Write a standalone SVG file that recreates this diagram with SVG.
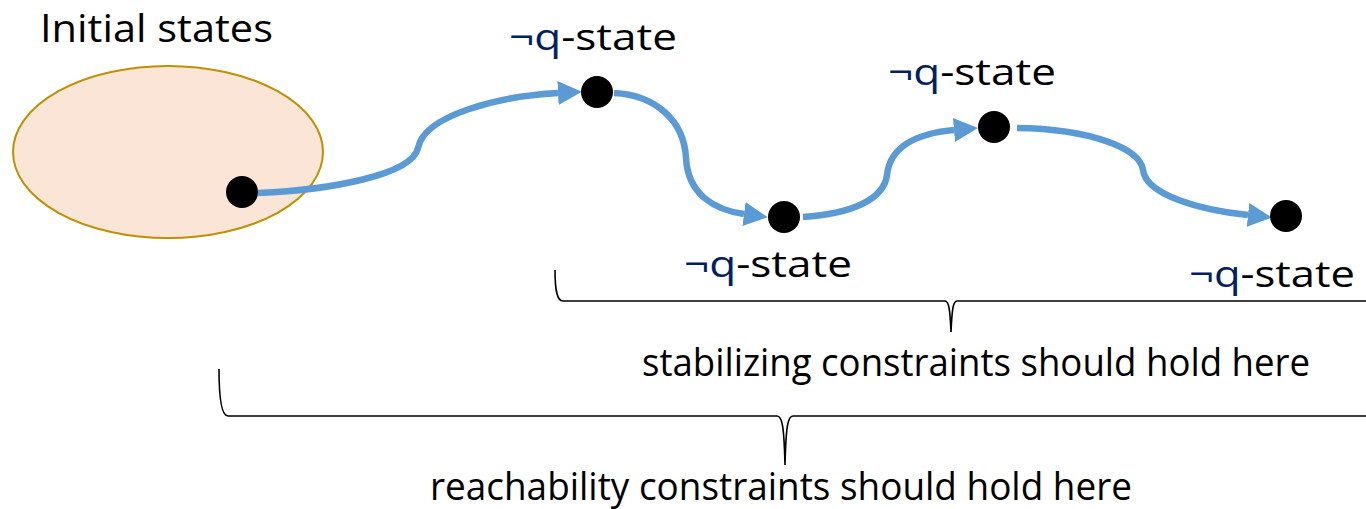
<svg xmlns="http://www.w3.org/2000/svg" width="1366" height="509" viewBox="0 0 1366 509">
  <style>
    .lbl { font-family: "Open Sans", "Liberation Sans", sans-serif; fill: #000; }
    .neg { fill: #002060; }
    .conn { fill: none; stroke: #5B9BD5; stroke-width: 6.5; marker-end: url(#arrow); }
    .dot { fill: #000; }
    .brace { fill: none; stroke: #000; stroke-width: 1.6; }
  </style>
  <defs>
    <marker id="arrow" viewBox="0 0 24 24" refX="0" refY="12" markerWidth="24" markerHeight="24" markerUnits="userSpaceOnUse" orient="auto">
      <path d="M0,0 L24,12 L0,24 Z" fill="#5B9BD5"/>
    </marker>
  </defs>
  <rect width="1366" height="509" fill="#fff"/>

  <g id="initial-states">
    <ellipse cx="168" cy="152" rx="155" ry="86" fill="#FBE5D6" stroke="#BF9000" stroke-width="2"/>
    <text class="lbl" x="40" y="42" font-size="39" textLength="233" lengthAdjust="spacingAndGlyphs">Initial states</text>
  </g>

  <g id="connectors">
    <path class="conn" d="M258,193 C330,190 412,175 418,148 C424,115 500,96 558,93"/>
    <path class="conn" d="M614,93 C655,95 684,120 686,158 C688,195 715,210 744,214"/>
    <path class="conn" d="M803,217 C850,214 884,200 887,175 C890,145 920,133 954,130"/>
    <path class="conn" d="M1017,128 C1090,129 1140,148 1143,170 C1146,195 1200,210 1248,215"/>
  </g>

  <g id="state0">
    <circle class="dot" cx="242" cy="192" r="16"/>
  </g>
  <g id="state1">
    <circle class="dot" cx="597" cy="92" r="16"/>
    <text class="lbl" x="509" y="50" font-size="37" textLength="168" lengthAdjust="spacingAndGlyphs"><tspan class="neg">¬q</tspan>-state</text>
  </g>
  <g id="state2">
    <circle class="dot" cx="784" cy="217" r="16"/>
    <text class="lbl" x="684" y="277" font-size="37" textLength="168" lengthAdjust="spacingAndGlyphs"><tspan class="neg">¬q</tspan>-state</text>
  </g>
  <g id="state3">
    <circle class="dot" cx="994" cy="127" r="16"/>
    <text class="lbl" x="888" y="85" font-size="37" textLength="168" lengthAdjust="spacingAndGlyphs"><tspan class="neg">¬q</tspan>-state</text>
  </g>
  <g id="state4">
    <circle class="dot" cx="1286" cy="216" r="16"/>
    <text class="lbl" x="1189" y="287" font-size="37" textLength="166" lengthAdjust="spacingAndGlyphs"><tspan class="neg">¬q</tspan>-state</text>
  </g>

  <g id="stabilizing-brace">
    <path class="brace" d="M555,270 C555,290 557,301 563,301 L945,301 C949,301 950,310 951,332 C952,310 953,301 957,301 L1370,301"/>
    <text class="lbl" x="642" y="376" font-size="38" textLength="668" lengthAdjust="spacingAndGlyphs">stabilizing constraints should hold here</text>
  </g>

  <g id="reachability-brace">
    <path class="brace" d="M219,369 C219,395 221,416 228,416 L777,416 C782,416 784,425 785,465 C786,425 788,416 793,416 L1370,416"/>
    <text class="lbl" x="430" y="500" font-size="38" textLength="702" lengthAdjust="spacingAndGlyphs">reachability constraints should hold here</text>
  </g>
</svg>
